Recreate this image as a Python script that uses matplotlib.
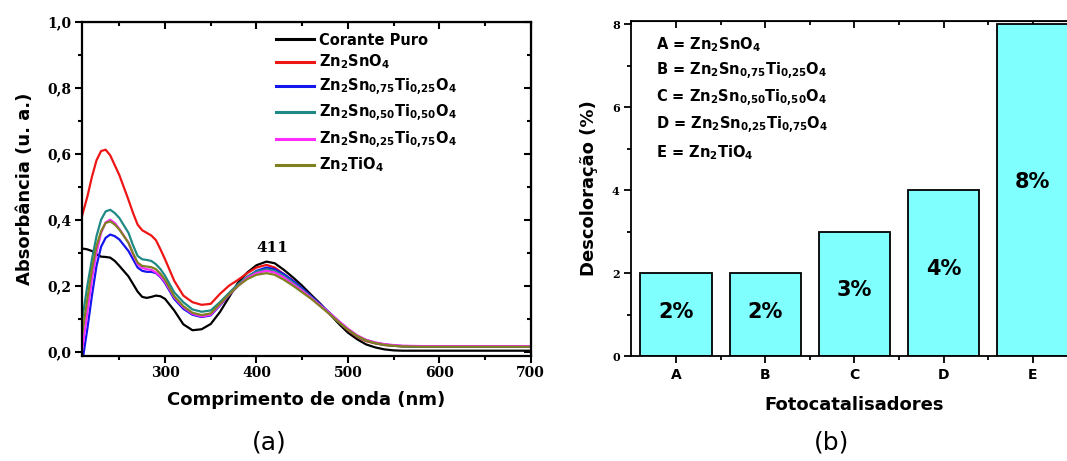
import numpy as np
import matplotlib
matplotlib.use("Agg")
import matplotlib.pyplot as plt
from matplotlib.ticker import MultipleLocator, FuncFormatter

plt.rcParams['mathtext.fontset'] = 'dejavusans'
plt.rcParams['mathtext.default'] = 'bf'

# (a) UV-vis spectra
wl = [209, 215, 220, 225, 230, 235, 240, 245, 250, 260, 265, 270, 275, 280, 285, 290,
      295, 300, 310, 320, 330, 340, 350, 360, 370, 380, 390, 400, 411, 420, 430, 440,
      450, 460, 470, 480, 490, 500, 510, 520, 530, 540, 550, 560, 580, 600, 650, 700]

corante = [0.313, 0.310, 0.305, 0.295, 0.288, 0.287, 0.285, 0.275, 0.260, 0.228, 0.205,
           0.182, 0.166, 0.163, 0.166, 0.170, 0.168, 0.160, 0.125, 0.083, 0.065, 0.068,
           0.084, 0.120, 0.165, 0.210, 0.240, 0.262, 0.273, 0.268, 0.248, 0.225, 0.200,
           0.172, 0.145, 0.115, 0.085, 0.058, 0.038, 0.022, 0.013, 0.007, 0.004, 0.003,
           0.003, 0.003, 0.003, 0.003]
zn2sno4 = [0.410, 0.470, 0.530, 0.580, 0.608, 0.612, 0.595, 0.565, 0.535, 0.460, 0.420,
           0.385, 0.368, 0.360, 0.352, 0.338, 0.310, 0.280, 0.215, 0.170, 0.150, 0.142,
           0.145, 0.175, 0.200, 0.218, 0.238, 0.255, 0.263, 0.255, 0.235, 0.215, 0.190,
           0.165, 0.140, 0.115, 0.090, 0.065, 0.045, 0.032, 0.025, 0.020, 0.018, 0.016,
           0.015, 0.015, 0.015, 0.015]
sn75ti25 = [-0.040, 0.070, 0.170, 0.260, 0.318, 0.345, 0.355, 0.350, 0.340, 0.305, 0.280,
            0.255, 0.245, 0.242, 0.242, 0.238, 0.226, 0.208, 0.160, 0.130, 0.112, 0.105,
            0.110, 0.140, 0.172, 0.200, 0.225, 0.245, 0.255, 0.250, 0.235, 0.215, 0.192,
            0.168, 0.143, 0.118, 0.092, 0.068, 0.048, 0.035, 0.027, 0.022, 0.019, 0.017,
            0.015, 0.015, 0.015, 0.015]
sn50ti50 = [0.090, 0.200, 0.280, 0.350, 0.400, 0.425, 0.430, 0.420, 0.405, 0.360, 0.322,
            0.290, 0.280, 0.278, 0.275, 0.265, 0.250, 0.230, 0.180, 0.150, 0.128, 0.121,
            0.125, 0.150, 0.178, 0.205, 0.228, 0.243, 0.250, 0.245, 0.230, 0.210, 0.188,
            0.165, 0.140, 0.116, 0.090, 0.067, 0.047, 0.034, 0.026, 0.021, 0.018, 0.016,
            0.015, 0.015, 0.015, 0.015]
sn25ti75 = [0.000, 0.120, 0.220, 0.300, 0.360, 0.392, 0.400, 0.390, 0.372, 0.330, 0.295,
            0.265, 0.254, 0.250, 0.248, 0.240, 0.228, 0.212, 0.165, 0.135, 0.115, 0.107,
            0.112, 0.142, 0.172, 0.200, 0.224, 0.238, 0.245, 0.240, 0.225, 0.205, 0.185,
            0.163, 0.140, 0.117, 0.093, 0.070, 0.050, 0.036, 0.028, 0.023, 0.020, 0.018,
            0.017, 0.017, 0.017, 0.017]
zn2tio4 = [0.045, 0.160, 0.250, 0.320, 0.365, 0.390, 0.395, 0.385, 0.370, 0.330, 0.298,
           0.270, 0.260, 0.258, 0.256, 0.250, 0.236, 0.218, 0.168, 0.138, 0.118, 0.111,
           0.116, 0.145, 0.173, 0.200, 0.220, 0.233, 0.238, 0.233, 0.218, 0.200, 0.180,
           0.160, 0.137, 0.114, 0.090, 0.067, 0.048, 0.034, 0.026, 0.021, 0.018, 0.016,
           0.015, 0.015, 0.015, 0.015]

series = [corante, zn2sno4, sn75ti25, sn50ti50, sn25ti75, zn2tio4]
labels = ['Corante Puro', r'$Zn_2SnO_4$', r'$Zn_2Sn_{0{,}75}Ti_{0{,}25}O_4$',
          r'$Zn_2Sn_{0{,}50}Ti_{0{,}50}O_4$', r'$Zn_2Sn_{0{,}25}Ti_{0{,}75}O_4$',
          r'$Zn_2TiO_4$']
colors = ['#000000', '#EE1515', '#1515EE', '#1F8A85', '#FF2BFF', '#808020']

# (b) decolorisation
cats = ['A', 'B', 'C', 'D', 'E']
descol = [2, 2, 3, 4, 8]
cat_names = [r'$Zn_2SnO_4$', r'$Zn_2Sn_{0{,}75}Ti_{0{,}25}O_4$',
             r'$Zn_2Sn_{0{,}50}Ti_{0{,}50}O_4$', r'$Zn_2Sn_{0{,}25}Ti_{0{,}75}O_4$',
             r'$Zn_2TiO_4$']

fig = plt.figure(figsize=(10.67, 4.61), dpi=100)
tickfont = dict(family='DejaVu Serif', weight='bold')
comma = FuncFormatter(lambda v, p: ('%.1f' % v).replace('.', ','))

# ---------- panel (a)
ax = fig.add_axes([0.0764, 0.2278, 0.4209, 0.7252])
for y, lab, c in zip(series, labels, colors):
    ax.plot(wl, y, color=c, lw=1.6, label=lab)
ax.set_xlim(208.6, 700)
ax.set_ylim(-0.013, 1.0)
ax.xaxis.set_major_locator(MultipleLocator(100))
ax.xaxis.set_minor_locator(MultipleLocator(50))
ax.yaxis.set_major_locator(MultipleLocator(0.2))
ax.yaxis.set_minor_locator(MultipleLocator(0.1))
ax.yaxis.set_major_formatter(comma)
ax.tick_params(which='major', direction='out', length=5, width=1.5, pad=2)
ax.tick_params(which='minor', direction='out', length=3, width=1.5)
for t in ax.get_xticklabels() + ax.get_yticklabels():
    t.set_fontproperties(dict(tickfont, size=10))
for s in ax.spines.values():
    s.set_linewidth(1.6)
top = ax.secondary_xaxis('top')
top.set_xticks(np.arange(300, 701, 100))
top.set_xticks(np.arange(250, 701, 100), minor=True)
top.tick_params(which='both', direction='in', labeltop=False, width=1.5)
top.tick_params(which='major', length=5)
top.tick_params(which='minor', length=3)
right = ax.secondary_yaxis('right')
right.set_yticks(np.arange(0, 1.01, 0.2))
right.set_yticks(np.arange(0.1, 1.0, 0.2), minor=True)
right.tick_params(which='both', direction='in', labelright=False, width=1.5)
right.tick_params(which='major', length=5)
right.tick_params(which='minor', length=3)

ax.set_xlabel('Comprimento de onda (nm)', fontsize=13, fontweight='bold', labelpad=8)
ax.set_ylabel('Absorbância (u. a.)', fontsize=13, fontweight='bold', labelpad=10)
ax.text(417, 0.315, '411', fontsize=11, ha='center', va='center', **tickfont)
leg = ax.legend(loc='upper left', bbox_to_anchor=(0.42, 0.985), frameon=False,
                prop=dict(family='DejaVu Sans', weight='bold', size=10.5),
                handlelength=2.6, handletextpad=0.35, labelspacing=0.35,
                borderaxespad=0)
for h in leg.get_lines():
    h.set_linewidth(2.2)

# ---------- panel (b)
bx = fig.add_axes([0.5918, 0.2271, 0.4180, 0.7280])
xpos = np.arange(1, len(cats) + 1)
bx.bar(xpos, descol, width=0.8, color='#80FFFF', edgecolor='black', linewidth=1.3)
for xp, v in zip(xpos, descol):
    bx.text(xp, v * 0.52 + 0.03, '%d%%' % v, ha='center', va='center',
            fontsize=15, fontweight='bold', family='DejaVu Sans')
bx.set_xlim(0.5, 5.5)
bx.set_ylim(0, 8.09)
bx.set_xticks(xpos)
bx.set_xticklabels(cats)
bx.set_xticks(xpos[:-1] + 0.5, minor=True)
bx.yaxis.set_major_locator(MultipleLocator(2))
bx.yaxis.set_minor_locator(MultipleLocator(1))
bx.tick_params(which='major', direction='out', length=5, width=1.3)
bx.tick_params(which='minor', direction='out', length=3, width=1.3)
for t in bx.get_xticklabels():
    t.set_fontsize(10)
    t.set_fontweight('bold')
for t in bx.get_yticklabels():
    t.set_fontproperties(dict(tickfont, size=8))
for s in bx.spines.values():
    s.set_linewidth(1.3)
btop = bx.secondary_xaxis('top')
btop.set_xticks(xpos)
btop.set_xticks(np.arange(0.5, 5.6, 1.0), minor=True)
btop.tick_params(which='both', direction='in', labeltop=False, width=1.3)
btop.tick_params(which='major', length=5)
btop.tick_params(which='minor', length=3)
bx.set_xlabel('Fotocatalisadores', fontsize=13, fontweight='bold', labelpad=10)
bx.set_ylabel('Descoloração (%)', fontsize=13, fontweight='bold', labelpad=10)
for i, (c, name) in enumerate(zip(cats, cat_names)):
    bx.text(0.055, 0.93 - i * 0.081, c + ' = ' + name, transform=bx.transAxes,
            fontsize=10.5, fontweight='bold', ha='left', va='center')

fig.text(269 / 1067, 1 - 442 / 461, '(a)', fontsize=18, ha='center', va='center')
fig.text(832 / 1067, 1 - 442 / 461, '(b)', fontsize=18, ha='center', va='center')

fig.savefig('out.png', dpi=100)
